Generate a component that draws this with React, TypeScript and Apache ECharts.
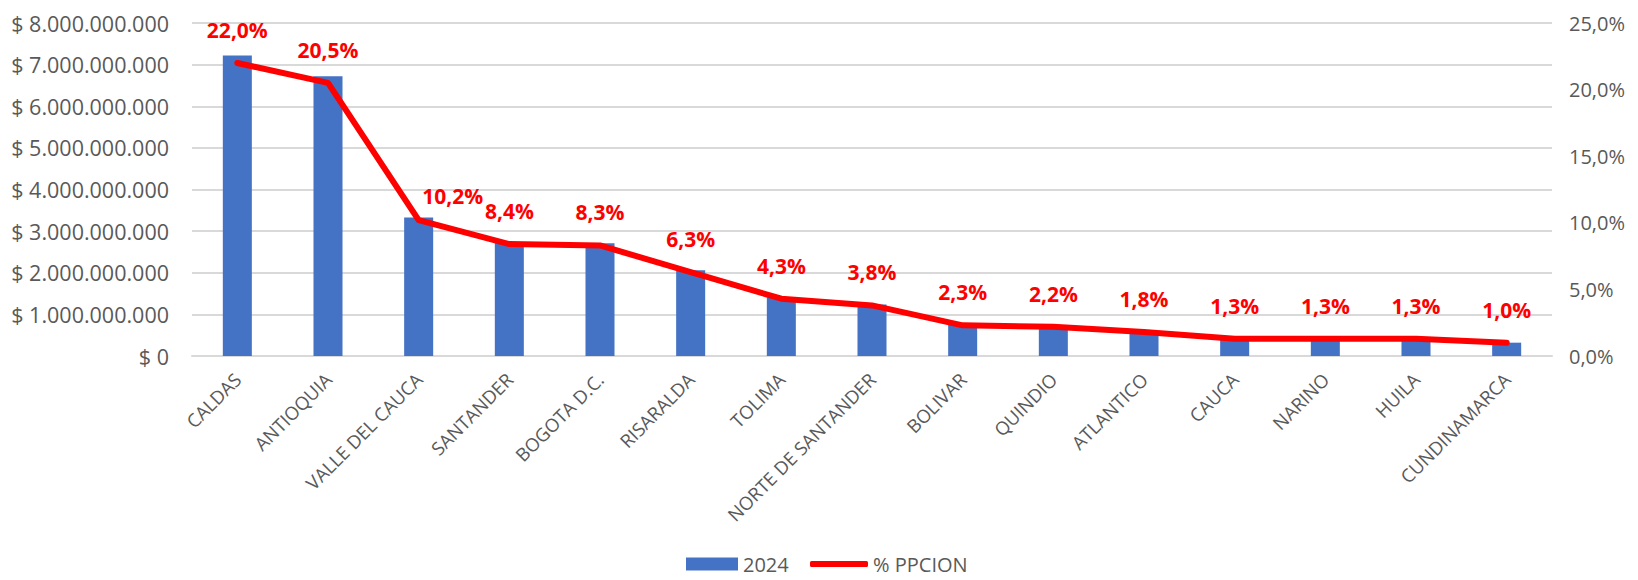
import React, { useEffect, useRef } from "react";
import * as echarts from "echarts";

const categories = [
  "CALDAS",
  "ANTIOQUIA",
  "VALLE DEL CAUCA",
  "SANTANDER",
  "BOGOTA D.C.",
  "RISARALDA",
  "TOLIMA",
  "NORTE DE SANTANDER",
  "BOLIVAR",
  "QUINDIO",
  "ATLANTICO",
  "CAUCA",
  "NARINO",
  "HUILA",
  "CUNDINAMARCA",
];

const values2024 = [
  7220000000, 6720000000, 3330000000, 2740000000, 2710000000, 2060000000,
  1410000000, 1240000000, 750000000, 700000000, 570000000, 430000000,
  420000000, 420000000, 320000000,
];

const sharePct = [22.0, 20.5, 10.2, 8.4, 8.3, 6.3, 4.3, 3.8, 2.3, 2.2, 1.8, 1.3, 1.3, 1.3, 1.0];

const FONT = "'Open Sans', 'Noto Sans', sans-serif";
const GRAY = "#595959";

function money(v: number): string {
  return "$ " + String(Math.round(v)).replace(/\B(?=(\d{3})+(?!\d))/g, ".");
}
function pct(v: number): string {
  return v.toFixed(1).replace(".", ",") + "%";
}

export default function App() {
  const ref = useRef<HTMLDivElement>(null);
  useEffect(() => {
    document.body.style.margin = "0";
    if (!ref.current) return;
    const chart = echarts.init(ref.current, undefined, { renderer: "svg" });
    chart.setOption({
      animation: false,
      backgroundColor: "#ffffff",
      textStyle: { fontFamily: FONT },
      grid: { left: 192, right: 86, top: 23, bottom: 224 },
      legend: [
        {
          data: [{ name: "2024", icon: "rect" }],
          left: 686,
          top: 554,
          padding: 0,
          itemWidth: 52,
          itemHeight: 13,
          itemGap: 6,
          textStyle: { color: GRAY, fontSize: 20, lineHeight: 20, fontFamily: FONT },
        },
        {
          data: [{ name: "% PPCION", icon: "roundRect" }],
          left: 810,
          top: 554,
          padding: 0,
          itemWidth: 58,
          itemHeight: 6,
          textStyle: { color: GRAY, fontSize: 20, lineHeight: 20, fontFamily: FONT },
        },
      ],
      xAxis: {
        type: "category",
        data: categories,
        axisTick: { show: false },
        axisLine: { lineStyle: { color: "#d9d9d9", width: 2 } },
        axisLabel: {
          rotate: 45,
          interval: 0,
          margin: 20,
          color: GRAY,
          fontSize: 18.5,
          fontFamily: FONT,
        },
      },
      yAxis: [
        {
          type: "value",
          min: 0,
          max: 8000000000,
          interval: 1000000000,
          axisLine: { show: false },
          axisTick: { show: false },
          splitLine: { lineStyle: { color: "#d9d9d9", width: 2 } },
          axisLabel: {
            formatter: (v: number) => money(v),
            color: GRAY,
            fontSize: 21.5,
            margin: 23,
            fontFamily: FONT,
          },
        },
        {
          type: "value",
          min: 0,
          max: 25,
          interval: 5,
          position: "right",
          axisLine: { show: false },
          axisTick: { show: false },
          splitLine: { show: false },
          axisLabel: {
            formatter: (v: number) => pct(v),
            color: GRAY,
            fontSize: 20,
            margin: 17,
            fontFamily: FONT,
          },
        },
      ],
      series: [
        {
          name: "2024",
          type: "bar",
          data: values2024,
          barWidth: "32%",
          itemStyle: { color: "#4472C4" },
        },
        {
          name: "% PPCION",
          type: "line",
          yAxisIndex: 1,
          data: sharePct.map((v, i) =>
            i === 2 ? { value: v, label: { offset: [34, 9] } } : v
          ),
          symbol: "circle",
          symbolSize: 1,
          showSymbol: true,
          itemStyle: { color: "#FF0000" },
          lineStyle: { color: "#FF0000", width: 6, cap: "round", join: "round" },
          label: {
            show: true,
            position: "top",
            distance: 22,
            formatter: (p: any) => pct(p.value),
            color: "#FF0000",
            fontWeight: "bold",
            fontSize: 21,
            lineHeight: 21,
            fontFamily: FONT,
          },
        },
      ],
    });
    return () => chart.dispose();
  }, []);
  return <div ref={ref} style={{ width: 1638, height: 580 }} />;
}
